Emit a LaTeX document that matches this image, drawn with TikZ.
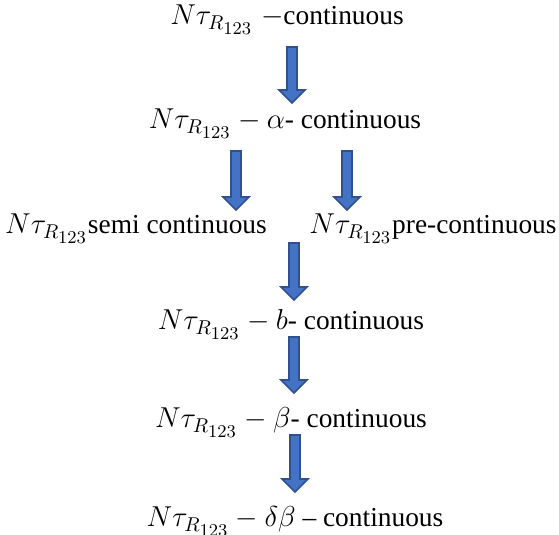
\documentclass[tikz,border=0pt]{standalone}
\usepackage{fontspec}
\setmainfont{Liberation Serif}
\DeclareMathSizes{13.7}{13.7}{10.3}{9.2}
\usetikzlibrary{calc}
\definecolor{arrowfill}{RGB}{68,114,196}
\definecolor{arrowedge}{RGB}{47,82,143}

\begin{document}
\begin{tikzpicture}[x=0.5pt,y=-0.5pt,
    lbl/.style={inner sep=0pt,anchor=base,font=\fontsize{13.7}{17}\selectfont},
    blockarrow/.style={draw=arrowedge,fill=arrowfill,line width=0.8pt,line join=miter,
      to path={let \p1=(\tikztostart), \p2=(\tikztotarget) in
        (\x1-2.5pt,\y1) -- (\x1+2.5pt,\y1) -- (\x1+2.5pt,\y2+6.5pt) -- (\x1+6.5pt,\y2+6.5pt)
        -- (\x1,\y2) -- (\x1-6.5pt,\y2+6.5pt) -- (\x1-2.5pt,\y2+6.5pt) -- cycle}}]
    \useasboundingbox (0,0) rectangle (559,535);
    \node[lbl] (c1) at (287,25) {$N\tau_{R_{123}}\;{-}$continuous};
    \node[lbl] (ac) at (285,129) {$N\tau_{R_{123}} - \alpha$- continuous};
    \node[lbl] (sc) at (136,234) {$N\tau_{R_{123}}$semi continuous};
    \node[lbl] (pc) at (433,234) {$N\tau_{R_{123}}$pre-continuous};
    \node[lbl] (bc) at (291,330) {$N\tau_{R_{123}} - b$- continuous};
    \node[lbl] (bec) at (291,428) {$N\tau_{R_{123}} - \beta$- continuous};
    \node[lbl] (dbc) at (295,527) {$N\tau_{R_{123}} - \delta\beta$ -- continuous};
    \path[blockarrow] ([shift={(5,22)}]c1.base) to ([shift={(5,-26)}]ac.base);
    \path[blockarrow] ([shift={(-49,22)}]ac.base) to ([shift={(-49,-24)}]ac.base |- sc.base);
    \path[blockarrow] ([shift={(62,22)}]ac.base) to ([shift={(62,-24)}]ac.base |- pc.base);
    \path[blockarrow] ([shift={(3,9)}]sc.base -| bc.base) to ([shift={(3,-30)}]bc.base);
    \path[blockarrow] ([shift={(3,7)}]bc.base) to ([shift={(3,-35)}]bec.base);
    \path[blockarrow] ([shift={(4,7)}]bec.base) to ([shift={(4,-35)}]dbc.base);
\end{tikzpicture}
\end{document}
